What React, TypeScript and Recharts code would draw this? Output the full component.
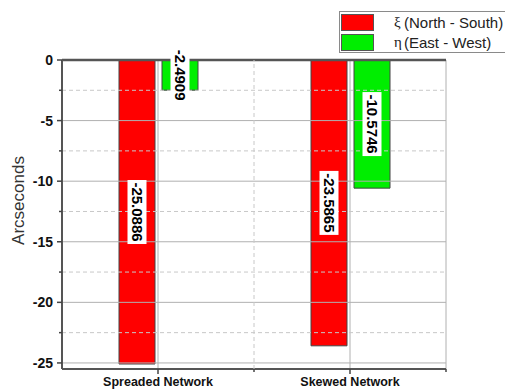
import React from 'react';
import { BarChart, Bar, XAxis, YAxis, CartesianGrid, ReferenceLine, LabelList, Legend, Label } from 'recharts';

const networks = ['Spreaded Network', 'Skewed Network'];
const xiValues = [-25.0886, -23.5865];
const etaValues = [-2.4909, -10.5746];
const majorTicks = [0, -5, -10, -15, -20, -25];
const minorTicks = [-2.5, -7.5, -12.5, -17.5, -22.5];

const seriesInfo = [
  { key: 'xi', symbol: 'ξ', label: '(North - South)', color: '#ff0000' },
  { key: 'eta', symbol: 'η', label: '(East - West)', color: '#00ee00' },
];

const data = networks.map((name, i) => ({ name, xi: xiValues[i], eta: etaValues[i] }));
const allTicks = [...majorTicks, ...minorTicks].sort((a, b) => b - a);

const FONT = 'Arial, "Liberation Sans", sans-serif';
const W = 505;
const H = 389;
const MARGIN = { top: 60, right: 59, left: 0, bottom: 0 };
const Y_AXIS_W = 62;
const X_AXIS_H = 20;
const TICK = 5;
const MINOR_TICK = 3;
const Y_TICK_MARGIN = 4;
const X_TICK_MARGIN = 3;
const Y_DOMAIN: [number, number] = [-25.5, 0];
const AXIS_COLOR = '#555';
const TICK_COLOR = '#444';
const DASH_COLOR = '#c8c8c8';

// value printed sideways in a white box at the middle of each bar
const ValueTag = (props: any) => {
  const { x, y, width, height, value } = props;
  const cx = x + width / 2;
  const cy = y + height / 2;
  const text = String(value);
  const len = text.length * 7.5;
  return (
    <g transform={`translate(${cx},${cy}) rotate(90)`}>
      <rect x={-len / 2 - 2} y={-9.5} width={len + 4} height={19} fill="#fff" />
      <text x={0} y={0} dy="0.36em" textAnchor="middle" fontSize={15} fontWeight="bold" fill="#000" fontFamily={FONT}>
        {text}
      </text>
    </g>
  );
};

// y ticks: long marks with labels on whole fives, short marks in between
const ValueTick = (props: any) => {
  const { x, y, payload } = props;
  const major = majorTicks.includes(payload.value);
  const axisX = x + TICK + Y_TICK_MARGIN;
  return (
    <g>
      <line x1={axisX - (major ? TICK : MINOR_TICK)} y1={y} x2={axisX} y2={y} stroke={TICK_COLOR} strokeWidth={1.5} />
      {major && (
        <text x={x} y={y} dy="0.36em" textAnchor="end" fontSize={14} fontWeight="bold" fill="#111" fontFamily={FONT}>
          {payload.value}
        </text>
      )}
    </g>
  );
};

// x ticks: mark at the group centre, short mark and dashed divider at the band edge
const CategoryTick = (props: any) => {
  const { x, y, payload, index } = props;
  const plotW = W - MARGIN.right - Y_AXIS_W;
  const half = typeof payload.offset === 'number' && payload.offset > 0 ? payload.offset : plotW / networks.length / 2;
  const axisY = y - TICK - X_TICK_MARGIN;
  const edge = x + half;
  return (
    <g>
      {index < networks.length - 1 && (
        <line x1={edge} y1={axisY} x2={edge} y2={MARGIN.top} stroke={DASH_COLOR} strokeDasharray="4 3" />
      )}
      <line x1={x} y1={axisY} x2={x} y2={axisY + TICK} stroke={TICK_COLOR} strokeWidth={1.5} />
      <line x1={edge} y1={axisY} x2={edge} y2={axisY + MINOR_TICK} stroke={TICK_COLOR} strokeWidth={1.5} />
      <text x={x} y={y} dy="0.71em" textAnchor="middle" fontSize={12.5} fontWeight="bold" fill="#111" fontFamily={FONT}>
        {payload.value}
      </text>
    </g>
  );
};

const LegendBox = () => (
  <div style={{ border: '1px solid #8a8a8a', width: 190, height: 40, background: '#fff', fontFamily: FONT, fontSize: 15, color: '#222', whiteSpace: 'nowrap' }}>
    {seriesInfo.map((s) => (
      <div key={s.key} style={{ display: 'flex', alignItems: 'center', height: 20 }}>
        <span style={{ width: 31, height: 15, background: s.color, border: '1px solid #555', marginLeft: 1, flex: 'none' }} />
        <span style={{ fontFamily: '"Liberation Serif", serif', marginLeft: 20, width: 10, flex: 'none' }}>{s.symbol}</span>
        <span>{s.label}</span>
      </div>
    ))}
  </div>
);

const AxisTitle = ({ viewBox }: any) => {
  const x = viewBox.x + 18;
  const y = viewBox.y + viewBox.height / 2 - 14;
  return (
    <text x={x} y={y} transform={`rotate(-90, ${x}, ${y})`} textAnchor="middle" dy="0.35em" fontSize={17} fill="#333" fontFamily={FONT}>
      Arcseconds
    </text>
  );
};

export default function App() {
  return (
    <div style={{ position: 'fixed', left: 0, top: 0, background: '#fff' }}>
      <BarChart width={W} height={H} data={data} margin={MARGIN} barGap={7} barSize={36}>
        <CartesianGrid horizontal={false} stroke="#b0b0b0" strokeWidth={1} />
        {majorTicks.map((v) => (
          <ReferenceLine key={`M${v}`} y={v} stroke="#b0b0b0" />
        ))}
        {minorTicks.map((v) => (
          <ReferenceLine key={`m${v}`} y={v} stroke={DASH_COLOR} strokeDasharray="4 3" />
        ))}
        <XAxis
          dataKey="name"
          height={X_AXIS_H}
          axisLine={{ stroke: AXIS_COLOR, strokeWidth: 2 }}
          tickLine={false}
          tickSize={TICK}
          tickMargin={X_TICK_MARGIN}
          tick={CategoryTick}
        />
        <YAxis
          domain={Y_DOMAIN}
          ticks={allTicks}
          interval={0}
          width={Y_AXIS_W}
          axisLine={{ stroke: AXIS_COLOR, strokeWidth: 2 }}
          tickLine={false}
          tickSize={TICK}
          tickMargin={Y_TICK_MARGIN}
          tick={ValueTick}
        >
          <Label content={AxisTitle} />
        </YAxis>
        {seriesInfo.map((s) => (
          <Bar key={s.key} dataKey={s.key} fill={s.color} stroke="#444" strokeWidth={1} isAnimationActive={false}>
            <LabelList dataKey={s.key} content={ValueTag} />
          </Bar>
        ))}
        <ReferenceLine y={0} stroke={AXIS_COLOR} strokeWidth={2.5} />
        <Legend
          layout="horizontal"
          verticalAlign="middle"
          align="center"
          content={LegendBox}
          wrapperStyle={{ position: 'absolute', left: 339, top: 11, width: 192, height: 42 }}
        />
      </BarChart>
    </div>
  );
}
